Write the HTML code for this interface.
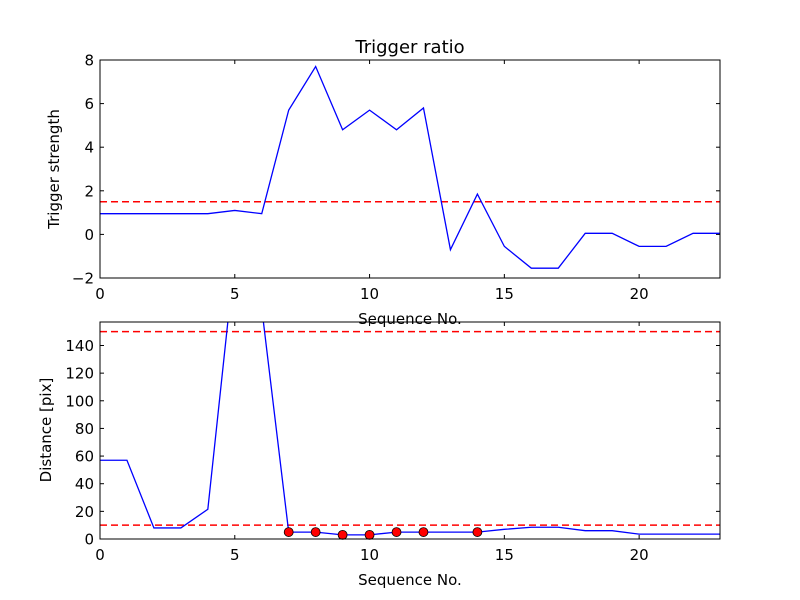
<!DOCTYPE html>
<html><head><meta charset="utf-8"><style>
body{margin:0;background:#fff;}
svg{display:block;font-family:"DejaVu Sans","Liberation Sans",sans-serif;}
</style></head><body>
<svg id="chart" width="800" height="600">
<defs>
<clipPath id="c1"><rect x="100" y="60" width="620" height="218"/></clipPath>
<clipPath id="c2"><rect x="100" y="322" width="620" height="217"/></clipPath>
</defs>
</svg>
<script>
const seq = [0,1,2,3,4,5,6,7,8,9,10,11,12,13,14,15,16,17,18,19,20,21,22,23];
const strength = [0.95,0.95,0.95,0.95,0.95,1.1,0.95,5.7,7.7,4.8,5.7,4.8,5.8,-0.7,1.85,-0.55,-1.55,-1.55,0.05,0.05,-0.55,-0.55,0.05,0.05];
const strengthThreshold = 1.5;
const distance = [57,57,8,8,21.5,204,167,5,5,3,3,5,5,5,5,7,8.5,8.5,6,6,3.5,3.5,3.5,3.5];
const markedIdx = [7,8,9,10,11,12,14];
const distThresholds = [10,150];
const xTicks = [0,5,10,15,20];
const yTicksTop = [-2,0,2,4,6,8];
const yTicksBot = [0,20,40,60,80,100,120,140];

const NS="http://www.w3.org/2000/svg";
const svg=document.getElementById('chart');
function mk(tag,attrs,parent){const e=document.createElementNS(NS,tag);for(const k in attrs)e.setAttribute(k,attrs[k]);(parent||svg).appendChild(e);return e;}
const fmt=t=>t<0?'\u2212'+Math.abs(t):String(t);

const X0=100,X1=720;
const sx=v=>X0+(v-0)/(23-0)*(X1-X0);
function panel(top,bot,ymin,ymax,yticks,name){
  const sy=v=>bot-(v-ymin)/(ymax-ymin)*(bot-top);
  const g=mk('g',{});
  
  
  xTicks.forEach(t=>{
    const x=sx(t);
    mk('line',{x1:x,x2:x,y1:bot,y2:bot-4,stroke:'#000'},g);
    mk('line',{x1:x,x2:x,y1:top,y2:top+4,stroke:'#000'},g);
    const tx=mk('text',{x:x,y:bot+21,'text-anchor':'middle','font-size':15},g);
    tx.textContent=fmt(t);
    
    
  });
  yticks.forEach(t=>{
    const y=sy(t);
    mk('line',{x1:X0,x2:X0+4,y1:y,y2:y,stroke:'#000'},g);
    mk('line',{x1:X1,x2:X1-4,y1:y,y2:y,stroke:'#000'},g);
    const tx=mk('text',{x:X0-6,y:y+5.5,'text-anchor':'end','font-size':15},g);
    tx.textContent=fmt(t);
    
    
  });
  return {g,sy};
}

const p1=panel(60,278,-2,8,yTicksTop,'top-panel');
const th1=mk('line',{x1:X0,x2:X1,y1:p1.sy(strengthThreshold),y2:p1.sy(strengthThreshold),stroke:'#f00','stroke-width':1.5,'stroke-dasharray':'7,4'});


const l1=mk('polyline',{points:seq.map((s,i)=>sx(s)+','+p1.sy(strength[i])).join(' '),fill:'none',stroke:'#00f','stroke-width':1.3,'clip-path':'url(#c1)'});


mk('rect',{x:X0,y:60,width:620,height:218,fill:'none',stroke:'#000'});

const p2=panel(322,539,0,157,yTicksBot,'bottom-panel');
distThresholds.forEach(v=>{
  const t=mk('line',{x1:X0,x2:X1,y1:p2.sy(v),y2:p2.sy(v),stroke:'#f00','stroke-width':1.5,'stroke-dasharray':'7,4'});
  
  
});
const l2=mk('polyline',{points:seq.map((s,i)=>sx(s)+','+p2.sy(distance[i])).join(' '),fill:'none',stroke:'#00f','stroke-width':1.3,'clip-path':'url(#c2)'});


markedIdx.forEach(i=>{
  const c=mk('circle',{cx:sx(seq[i]),cy:p2.sy(distance[i]),r:4.5,fill:'#f00',stroke:'#000','stroke-width':0.8});
  
  
});
mk('rect',{x:X0,y:322,width:620,height:217,fill:'none',stroke:'#000'});

function label(txt,attrs,name){const t=mk('text',attrs);t.textContent=txt;}
label('Trigger ratio',{x:410,y:53,'text-anchor':'middle','font-size':18},'chart-title');
label('Sequence No.',{x:410,y:324,'text-anchor':'middle','font-size':15},'top-x-axis-title');
label('Sequence No.',{x:410,y:585,'text-anchor':'middle','font-size':15},'bottom-x-axis-title');
label('Trigger strength',{x:59,y:169,'text-anchor':'middle','font-size':15,transform:'rotate(-90 59 169)'},'top-y-axis-title');
label('Distance [pix]',{x:51,y:430,'text-anchor':'middle','font-size':15,transform:'rotate(-90 51 430)'},'bottom-y-axis-title');
</script>
</body></html>
